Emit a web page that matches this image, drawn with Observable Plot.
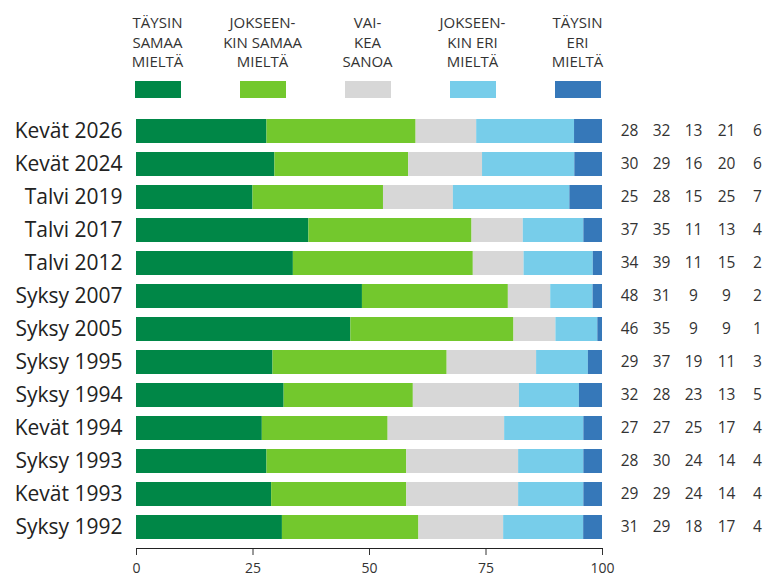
<!DOCTYPE html>
<html>
<head>
<meta charset="utf-8">
<script src="https://cdn.jsdelivr.net/npm/d3@7"></script>
<script src="https://cdn.jsdelivr.net/npm/@observablehq/plot@0.6"></script>
<style>
  html, body { margin: 0; padding: 0; background: #fff; }
  body { width: 768px; height: 577px; overflow: hidden; font-family: "Open Sans", "Noto Sans", sans-serif; color: #333; }
  #legend { height: 105px; box-sizing: border-box; padding-top: 13px; padding-left: 105px; display: grid; grid-template-columns: repeat(5, 105px); }
  .item { display: flex; flex-direction: column; align-items: center; }
  .lab { font-size: 15px; line-height: 19.5px; text-align: center; white-space: pre; height: 62px; }
  .sw { width: 46px; height: 17px; margin-top: 6px; }
</style>
</head>
<body>
<div id="legend"></div>
<div id="chart"></div>
<script>
const periods = ["Kevät 2026","Kevät 2024","Talvi 2019","Talvi 2017","Talvi 2012","Syksy 2007","Syksy 2005","Syksy 1995","Syksy 1994","Kevät 1994","Syksy 1993","Kevät 1993","Syksy 1992"];
const series = ["Täysin samaa mieltä","Jokseenkin samaa mieltä","Vaikea sanoa","Jokseenkin eri mieltä","Täysin eri mieltä"];
const legendLabels = ["TÄYSIN\nSAMAA\nMIELTÄ","JOKSEEN-\nKIN SAMAA\nMIELTÄ","VAI-\nKEA\nSANOA","JOKSEEN-\nKIN ERI\nMIELTÄ","TÄYSIN\nERI\nMIELTÄ"];
const colors = ["#008747","#73c82d","#d7d7d7","#77cdea","#3678b9"];
const taysinSamaa     = [28,30,25,37,34,48,46,29,32,27,28,29,31];
const jokseenkinSamaa = [32,29,28,35,39,31,35,37,28,27,30,29,29];
const vaikeaSanoa     = [13,16,15,11,11, 9, 9,19,23,25,24,24,18];
const jokseenkinEri   = [21,20,25,13,15, 9, 9,11,13,17,14,14,17];
const taysinEri       = [ 6, 6, 7, 4, 2, 2, 1, 3, 5, 4, 4, 4, 4];
const xTicks = [0, 25, 50, 75, 100];

const seriesValues = [taysinSamaa, jokseenkinSamaa, vaikeaSanoa, jokseenkinEri, taysinEri];
const data = [];
periods.forEach((p, i) => series.forEach((s, j) => data.push({period: p, series: s, value: seriesValues[j][i]})));

// legend
const legend = document.getElementById("legend");
legendLabels.forEach((l, i) => {
  const it = document.createElement("div"); it.className = "item";
  const lab = document.createElement("div"); lab.className = "lab"; lab.textContent = l;
  const sw = document.createElement("div"); sw.className = "sw"; sw.style.background = colors[i];
  it.appendChild(lab); it.appendChild(sw); legend.appendChild(it);
});

const colOffsets = [27, 59, 91, 124, 155];
const valueMarks = seriesValues.map((vals, j) =>
  Plot.text(periods, {y: d => d, text: (d, i) => vals[i], frameAnchor: "right", dx: colOffsets[j], fontSize: 15.5, fill: "#333", textAnchor: "middle"})
);

const chart = Plot.plot({
  width: 768,
  height: 472,
  marginLeft: 136,
  marginRight: 166,
  marginTop: 5,
  marginBottom: 29,
  style: {fontFamily: "'Open Sans', 'Noto Sans', sans-serif", color: "#222", background: "#fff"},
  x: {domain: [0, 1], axis: null},
  y: {domain: periods, paddingInner: 0.28, paddingOuter: 0.1, axis: null},
  color: {domain: series, range: colors},
  marks: [
    Plot.barX(data, Plot.stackX({x: "value", y: "period", fill: "series", order: series, offset: "normalize"})),
    Plot.axisY({tickSize: 0, tickPadding: 14, fontSize: 21, fill: "#222", label: null}),
    Plot.axisX({ticks: xTicks.map(d => d / 100), tickFormat: d => Math.round(d * 100), tickSize: 7, tickPadding: 8, fontSize: 14, fill: "#333", stroke: "#333", label: null}),
    Plot.frame({anchor: "bottom", stroke: "#222"}),
    ...valueMarks
  ]
});
document.getElementById("chart").appendChild(chart);
</script>
</body>
</html>
